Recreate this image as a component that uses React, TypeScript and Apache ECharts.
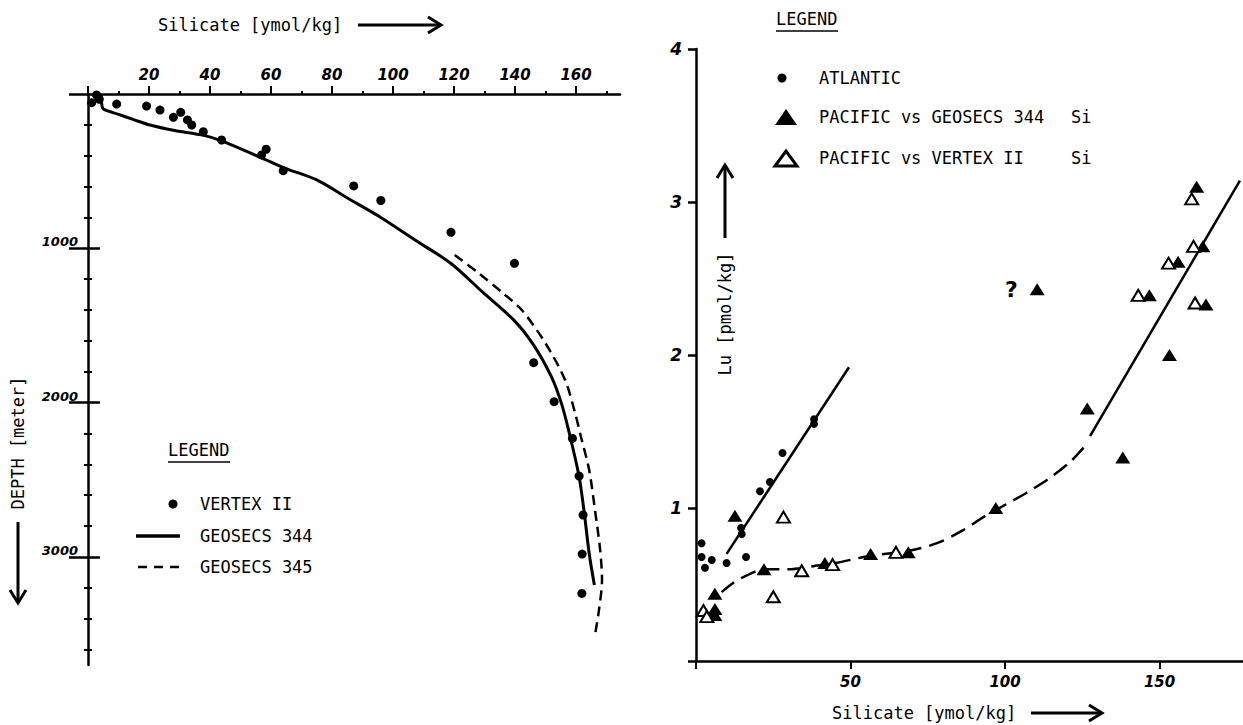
import React, { useEffect, useRef } from "react";
import * as echarts from "echarts";

// ---------- LEFT PANEL: silicate vs depth ----------
const leftSiMajorTicks = [0, 20, 40, 60, 80, 100, 120, 140, 160];
const leftSiMinorTicks = [10, 30, 50, 70, 90, 110, 130, 150, 170];
const leftSiTickLabels = [20, 40, 60, 80, 100, 120, 140, 160];
const depthMajorTicks = [0, 1000, 2000, 3000];
const depthMinorTicks = [200, 400, 600, 800, 1200, 1400, 1600, 1800, 2200, 2400, 2600, 2800, 3200, 3400, 3600];
const depthTickLabels = [1000, 2000, 3000];

const vertexSi = [1.2, 2.8, 3.7, 9.4, 19.2, 23.6, 28.0, 30.4, 32.6, 34.0, 37.8, 43.8, 58.4, 56.9, 64.0, 87.1, 96.0, 119.0, 139.8, 146.1, 152.8, 158.8, 161.0, 162.3, 162.0, 161.9];
const vertexDepth = [56, 6, 34, 65, 78, 104, 151, 119, 168, 201, 244, 298, 358, 395, 497, 596, 690, 896, 1097, 1741, 1994, 2232, 2476, 2728, 2981, 3236];

const g344Si = [4.3, 4.6, 5.2, 10, 15, 20.3, 28, 38, 44, 56.5, 64.5, 75, 85.2, 95.6, 107.2, 118.9, 129.2, 139.6, 146.1, 151.9, 155.2, 157.8, 161, 162.7, 164.3, 166];
const g344Depth = [0, 80, 100, 132, 166, 201, 235, 268, 305, 410, 480, 557, 676, 795, 946, 1097, 1281, 1465, 1627, 1832, 2005, 2199, 2480, 2717, 2977, 3182];

const g345Si = [120.2, 128, 136, 142.2, 150, 156.4, 159.7, 161.6, 164.3, 166.2, 167.9, 168.5, 167.5, 166.2];
const g345Depth = [1043, 1160, 1290, 1400, 1616, 1853, 2069, 2221, 2437, 2696, 2955, 3150, 3344, 3506];

// ---------- RIGHT PANEL: Lu vs silicate ----------
const rightSiTicks = [0, 50, 100, 150];
const rightSiTickLabels = [50, 100, 150];
const luTicks = [0, 1, 2, 3, 4];
const luTickLabels = [1, 2, 3, 4];

const atlSi = [1.8, 1.8, 2.9, 5.1, 9.9, 16.2, 14.8, 14.6, 20.7, 23.9, 28.0, 38.2, 38.2];
const atlLu = [0.77, 0.68, 0.61, 0.66, 0.64, 0.68, 0.83, 0.87, 1.11, 1.17, 1.36, 1.58, 1.55];
const atlFitSi = [9.9, 49.5];
const atlFitLu = [0.70, 1.92];

const pacGeoSi = [6.1, 6.1, 6.1, 12.6, 22.0, 41.7, 56.5, 68.7, 97, 126.6, 138.1, 146.7, 153.2, 156.0, 162.0, 164.0, 165.0];
const pacGeoLu = [0.44, 0.34, 0.30, 0.95, 0.60, 0.64, 0.70, 0.71, 1.0, 1.65, 1.33, 2.39, 2.00, 2.61, 3.10, 2.71, 2.33];
const pacGeoQueried = [110.4, 2.43];

const pacVertSi = [2.4, 3.5, 25.0, 28.3, 34.2, 44.2, 64.7, 143.1, 152.9, 160.4, 161.0, 161.5];
const pacVertLu = [0.33, 0.29, 0.42, 0.94, 0.59, 0.63, 0.71, 2.39, 2.60, 3.02, 2.71, 2.34];

const pacCurveDashSi = [8.3, 12, 17.5, 22, 30, 38, 45, 57, 69, 78, 86, 93, 100, 107, 114, 121, 126.5];
const pacCurveDashLu = [0.45, 0.51, 0.57, 0.60, 0.60, 0.62, 0.64, 0.69, 0.72, 0.77, 0.85, 0.94, 1.02, 1.10, 1.19, 1.30, 1.42];
const pacCurveSolidSi = [127.5, 176];
const pacCurveSolidLu = [1.47, 3.14];

// ---------- helpers ----------
const pairs = (xs: number[], ys: number[]) => xs.map((x, i) => [x, ys[i]]);
const MONO = "'DejaVu Sans Mono', 'Liberation Mono', monospace";
const TEXT_FONT = `17px ${MONO}`;
const INK = "#000";
const plainNumber = (v: number) => String(v);
const tickLabelStyle = {
  color: INK,
  fontFamily: "'DejaVu Sans', sans-serif",
  fontStyle: "italic" as const,
  fontWeight: "bold" as const,
  fontSize: 15,
  formatter: plainNumber,
};

function txt(x: number, y: number, text: string, align = "left", rotation = 0, font = TEXT_FONT): any {
  return {
    type: "text",
    x,
    y,
    rotation,
    z: 10,
    style: {
      text,
      x: 0,
      y: 0,
      font,
      fill: INK,
      align,
      verticalAlign: "middle",
      textAlign: align,
      textVerticalAlign: "middle",
    },
  };
}

function arrow(x1: number, y1: number, x2: number, y2: number): any {
  const dx = x2 - x1;
  const dy = y2 - y1;
  const len = Math.sqrt(dx * dx + dy * dy);
  const ux = dx / len;
  const uy = dy / len;
  const hl = 13;
  const hw = 8;
  const bx = x2 - ux * hl;
  const by = y2 - uy * hl;
  return {
    type: "group",
    z: 10,
    children: [
      { type: "line", shape: { x1, y1, x2, y2 }, style: { stroke: INK, lineWidth: 3 } },
      {
        type: "polyline",
        shape: { points: [[bx - uy * hw, by + ux * hw], [x2, y2], [bx + uy * hw, by - ux * hw]] },
        style: { stroke: INK, lineWidth: 3, fill: null },
      },
    ],
  };
}

function hline(x1: number, x2: number, y: number, w: number, dash?: number[]): any {
  return {
    type: "line",
    z: 10,
    shape: { x1, y1: y, x2, y2: y },
    style: { stroke: INK, lineWidth: w, lineDash: dash },
  };
}

function valueAxis(base: any): any {
  return {
    type: "value",
    splitLine: { show: false },
    minorSplitLine: { show: false },
    ...base,
  };
}

export default function App() {
  const ref = useRef<HTMLDivElement>(null);

  useEffect(() => {
    document.body.style.margin = "0";
    const chart = echarts.init(ref.current!, null, { renderer: "svg" });

    const axisLine = { show: true, onZero: false, lineStyle: { color: INK, width: 2.5 } };
    const noLine = { show: false, onZero: false };
    const solidItem = { color: INK, opacity: 1 };

    const option: any = {
      animation: false,
      backgroundColor: "#fff",
      grid: [
        { left: 88, top: 94, width: 532, height: 571, containLabel: false, outerBoundsMode: "none" },
        { left: 696, top: 49, width: 547, height: 612, containLabel: false, outerBoundsMode: "none" },
      ],
      xAxis: [
        valueAxis({
          gridIndex: 0, position: "top", offset: 0, min: 0, max: 174.4,
          axisLine,
          axisTick: { show: true, length: 8, customValues: leftSiMajorTicks, lineStyle: { color: INK, width: 2 } },
          axisLabel: { show: true, customValues: leftSiTickLabels, margin: 12, ...tickLabelStyle },
        }),
        valueAxis({
          gridIndex: 0, position: "top", offset: 0, min: 0, max: 174.4,
          axisLine: noLine,
          axisTick: { show: true, length: 3, customValues: leftSiMinorTicks, lineStyle: { color: INK, width: 2 } },
          axisLabel: { show: false },
        }),
        valueAxis({
          gridIndex: 1, position: "bottom", offset: 0, min: 0, max: 177,
          axisLine,
          axisTick: { show: true, length: 8, customValues: rightSiTicks, lineStyle: { color: INK, width: 2 } },
          axisLabel: { show: true, customValues: rightSiTickLabels, margin: 13, ...tickLabelStyle },
        }),
      ],
      yAxis: [
        valueAxis({
          gridIndex: 0, position: "left", offset: 0, inverse: true, min: 0, max: 3700,
          axisLine,
          axisTick: { show: true, length: 19, customValues: depthMajorTicks, lineStyle: { color: INK, width: 2.5 } },
          axisLabel: { show: true, customValues: depthTickLabels, margin: 10, verticalAlign: "bottom", ...tickLabelStyle, fontSize: 13 },
        }),
        valueAxis({
          gridIndex: 0, position: "left", offset: 0, inverse: true, min: 0, max: 3700,
          axisLine: noLine,
          axisTick: { show: true, inside: true, length: 12, customValues: depthTickLabels, lineStyle: { color: INK, width: 2.5 } },
          axisLabel: { show: false },
        }),
        valueAxis({
          gridIndex: 0, position: "left", offset: 0, inverse: true, min: 0, max: 3700,
          axisLine: noLine,
          axisTick: { show: true, length: 4, customValues: depthMinorTicks, lineStyle: { color: INK, width: 2 } },
          axisLabel: { show: false },
        }),
        valueAxis({
          gridIndex: 0, position: "left", offset: 0, inverse: true, min: 0, max: 3700,
          axisLine: noLine,
          axisTick: { show: true, inside: true, length: 4, customValues: depthMinorTicks, lineStyle: { color: INK, width: 2 } },
          axisLabel: { show: false },
        }),
        valueAxis({
          gridIndex: 1, position: "left", offset: 0, min: 0, max: 4,
          axisLine,
          axisTick: { show: true, length: 8, customValues: luTicks, lineStyle: { color: INK, width: 2.5 } },
          axisLabel: { show: true, customValues: luTickLabels, margin: 14, ...tickLabelStyle, fontSize: 17 },
        }),
      ],
      series: [
        // left panel
        {
          name: "VERTEX II", type: "scatter", xAxisIndex: 0, yAxisIndex: 0,
          data: pairs(vertexSi, vertexDepth), symbol: "circle", symbolSize: 9,
          itemStyle: solidItem, z: 5,
        },
        {
          name: "GEOSECS 344", type: "line", xAxisIndex: 0, yAxisIndex: 0,
          data: pairs(g344Si, g344Depth), symbol: "none", smooth: 0.3,
          lineStyle: { color: INK, width: 3 },
        },
        {
          name: "GEOSECS 345", type: "line", xAxisIndex: 0, yAxisIndex: 0,
          data: pairs(g345Si, g345Depth), symbol: "none", smooth: 0.3,
          lineStyle: { color: INK, width: 2.5, type: [10, 6] },
        },
        // right panel
        {
          name: "ATLANTIC", type: "scatter", xAxisIndex: 2, yAxisIndex: 4,
          data: pairs(atlSi, atlLu), symbol: "circle", symbolSize: 8,
          itemStyle: solidItem, z: 5,
        },
        {
          name: "ATLANTIC fit", type: "line", xAxisIndex: 2, yAxisIndex: 4,
          data: pairs(atlFitSi, atlFitLu), symbol: "none",
          lineStyle: { color: INK, width: 2.5 },
        },
        {
          name: "PACIFIC curve (dashed)", type: "line", xAxisIndex: 2, yAxisIndex: 4,
          data: pairs(pacCurveDashSi, pacCurveDashLu), symbol: "none", smooth: 0.3,
          lineStyle: { color: INK, width: 2.5, type: [16, 8] },
        },
        {
          name: "PACIFIC curve (solid)", type: "line", xAxisIndex: 2, yAxisIndex: 4,
          data: pairs(pacCurveSolidSi, pacCurveSolidLu), symbol: "none",
          lineStyle: { color: INK, width: 2.5 },
        },
        {
          name: "PACIFIC vs GEOSECS 344 Si", type: "scatter", xAxisIndex: 2, yAxisIndex: 4,
          data: pairs(pacGeoSi, pacGeoLu), symbol: "triangle", symbolSize: [15, 12],
          itemStyle: solidItem, z: 6,
        },
        {
          name: "PACIFIC vs GEOSECS 344 Si (queried)", type: "scatter", xAxisIndex: 2, yAxisIndex: 4,
          data: [pacGeoQueried], symbol: "triangle", symbolSize: [15, 12],
          itemStyle: solidItem, z: 6,
          label: {
            show: true, position: "left", distance: 12, formatter: "?",
            color: INK, opacity: 1, fontSize: 22, fontWeight: "bold", fontFamily: "'DejaVu Sans', sans-serif",
          },
        },
        {
          name: "PACIFIC vs VERTEX II Si", type: "scatter", xAxisIndex: 2, yAxisIndex: 4,
          data: pairs(pacVertSi, pacVertLu), symbol: "triangle", symbolSize: [13, 11],
          itemStyle: { color: "#fff", borderColor: INK, borderWidth: 2, opacity: 1 }, z: 7,
        },
      ],
      graphic: [
        // left panel titles
        txt(158, 25, "Silicate [ymol/kg]"),
        arrow(358, 25, 441, 25),
        txt(18, 443, "DEPTH [meter]", "center", Math.PI / 2),
        arrow(18, 522, 18, 603),
        // left legend
        txt(168, 450, "LEGEND"),
        hline(168, 230, 462, 1.5),
        { type: "circle", z: 10, shape: { cx: 173, cy: 504, r: 4.5 }, style: { fill: INK } },
        txt(200, 504, "VERTEX II"),
        hline(136, 180, 536, 3.5),
        txt(200, 536, "GEOSECS 344"),
        hline(138, 186, 567, 2.5, [9, 7]),
        txt(200, 567, "GEOSECS 345"),
        // right panel titles
        txt(725, 314, "Lu [pmol/kg]", "center", Math.PI / 2),
        arrow(725, 238, 725, 165),
        txt(832, 713, "Silicate [ymol/kg]"),
        arrow(1031, 713, 1102, 713),
        // right legend
        txt(776, 19, "LEGEND"),
        hline(776, 838, 31, 1.5),
        { type: "circle", z: 10, shape: { cx: 782, cy: 78, r: 4.5 }, style: { fill: INK } },
        txt(819, 78, "ATLANTIC"),
        { type: "polygon", z: 10, shape: { points: [[775, 125], [797, 125], [786, 109]] }, style: { fill: INK } },
        txt(819, 117, "PACIFIC vs GEOSECS 344"),
        txt(1071, 117, "Si"),
        { type: "polygon", z: 10, shape: { points: [[775, 166], [797, 166], [786, 151]] }, style: { fill: "#fff", stroke: INK, lineWidth: 3 } },
        txt(819, 158, "PACIFIC vs VERTEX II"),
        txt(1071, 158, "Si"),
      ],
    };

    chart.setOption(option);
    return () => chart.dispose();
  }, []);

  return (
    <div
      ref={ref}
      style={{ position: "absolute", left: 0, top: 0, width: 1243, height: 725, background: "#fff" }}
    />
  );
}
